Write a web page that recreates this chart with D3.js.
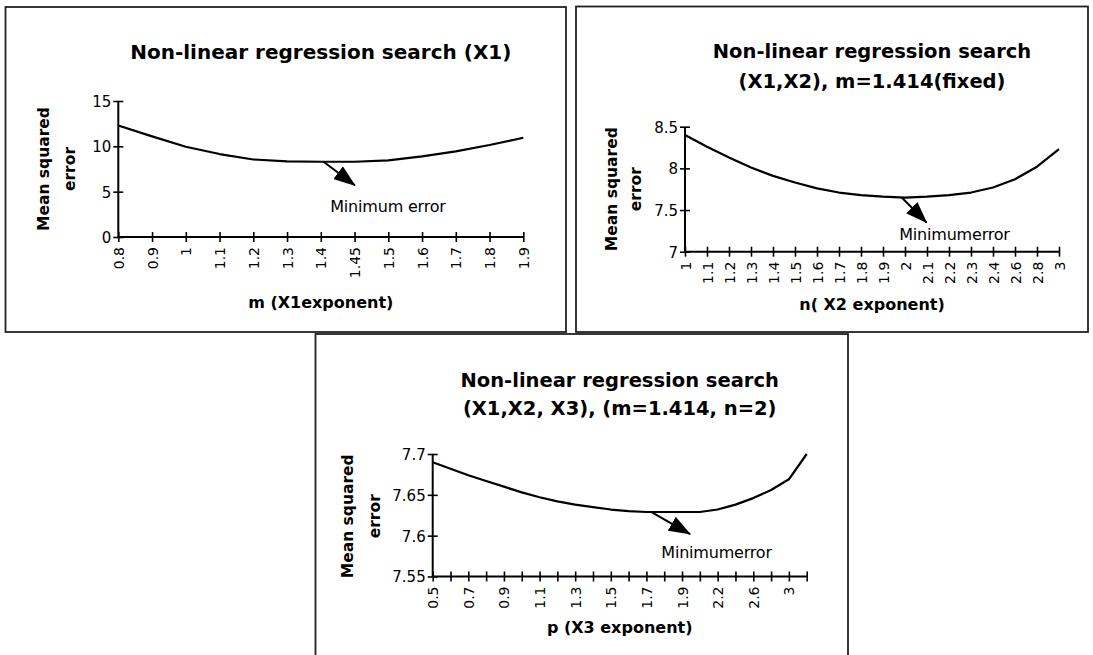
<!DOCTYPE html>
<html>
<head>
<meta charset="utf-8">
<script src="https://cdn.jsdelivr.net/npm/d3@7"></script>
<style>
  html, body { margin: 0; padding: 0; background: #fff; }
  svg { display: block; }
</style>
</head>
<body>
<svg id="chart" width="1093" height="655"></svg>
<script>
// ---------- data ----------
const titles1 = ["Non-linear regression search (X1)"];
const titles2 = ["Non-linear regression search", "(X1,X2), m=1.414(fixed)"];
const titles3 = ["Non-linear regression search", "(X1,X2, X3), (m=1.414, n=2)"];

const xTitle1 = "m (X1exponent)";
const xTitle2 = "n( X2 exponent)";
const xTitle3 = "p (X3 exponent)";
const yTitleLines = ["Mean squared", "error"];

const categories1 = ["0.8","0.9","1","1.1","1.2","1.3","1.4","1.45","1.5","1.6","1.7","1.8","1.9"];
const values1 = [12.3, 11.1, 9.95, 9.15, 8.55, 8.35, 8.3, 8.3, 8.45, 8.9, 9.45, 10.15, 10.95];
const yTicks1 = [0, 5, 10, 15];

const categories2 = ["1","1.1","1.2","1.3","1.4","1.5","1.6","1.7","1.8","1.9","2","2.1","2.2","2.3","2.4","2.6","2.8","3"];
const values2 = [8.40, 8.26, 8.13, 8.01, 7.91, 7.83, 7.76, 7.71, 7.68, 7.66, 7.65, 7.66, 7.68, 7.71, 7.77, 7.87, 8.02, 8.23];
const yTicks2 = [7, 7.5, 8, 8.5];

const categories3 = ["0.5","0.6","0.7","0.8","0.9","1","1.1","1.2","1.3","1.4","1.5","1.6","1.7","1.8","1.9","2","2.2","2.4","2.6","2.8","3","3.2"];
const values3 = [7.690, 7.682, 7.674, 7.667, 7.660, 7.653, 7.647, 7.642, 7.638, 7.635, 7.632, 7.630, 7.629, 7.629, 7.629, 7.629, 7.632, 7.638, 7.646, 7.656, 7.669, 7.700];
const yTicks3 = [7.55, 7.6, 7.65, 7.7];
const labelEvery3 = 2;

const annotationText1 = "Minimum error";
const annotationText2 = "Minimumerror";
const annotationText3 = "Minimumerror";
// annotation anchors in data space: [category index, value]
const arrowFrom1 = [6.08, 8.3],  arrowTo1 = [7.01, 5.7],  labelAt1 = [7.99, 2.75];
const arrowFrom2 = [9.85, 7.65], arrowTo2 = [10.98, 7.35], labelAt2 = [12.25, 7.146];
const arrowFrom3 = [12.26, 7.629], arrowTo3 = [14.45, 7.602], labelAt3 = [15.94, 7.5727];

// ---------- layout ----------
const svg = d3.select("#chart");
const FONT = "'DejaVu Sans', Verdana, sans-serif";

const defs = svg.append("defs");
defs.append("marker")
  .attr("id", "head")
  .attr("markerUnits", "userSpaceOnUse")
  .attr("viewBox", "0 0 22 16")
  .attr("refX", 21).attr("refY", 8)
  .attr("markerWidth", 22).attr("markerHeight", 16)
  .attr("orient", "auto")
  .append("path").attr("d", "M0,0 L22,8 L0,16 Z").attr("fill", "#000");

// panel frames
const panels = [
  {x: 5.5, y: 7, w: 560.5, h: 325},
  {x: 576, y: 6.5, w: 512, h: 325.5},
  {x: 315.5, y: 334, w: 532.5, h: 340}
];
svg.selectAll("rect.panel").data(panels).enter().append("rect")
  .attr("class", "panel")
  .attr("x", d => d.x).attr("y", d => d.y)
  .attr("width", d => d.w).attr("height", d => d.h)
  .attr("fill", "none").attr("stroke", "#222").attr("stroke-width", 1.8);

function drawChart(cfg) {
  const g = svg.append("g");
  const n = cfg.categories.length;
  const x = d3.scaleLinear().domain([0, n - 1]).range([cfg.x0, cfg.x1]);
  const y = d3.scaleLinear().domain([cfg.yTicks[0], cfg.yTicks[cfg.yTicks.length - 1]]).range([cfg.yBot, cfg.yTop]);

  // titles
  g.selectAll("text.title").data(cfg.titles).enter().append("text")
    .attr("x", (cfg.x0 + cfg.x1) / 2)
    .attr("y", (d, i) => cfg.titleY + i * cfg.titleGap)
    .attr("text-anchor", "middle")
    .attr("font-family", FONT).attr("font-weight", "bold")
    .attr("font-size", cfg.titleSize)
    .text(d => d);

  // y axis
  const yAxis = d3.axisLeft(y).tickValues(cfg.yTicks).tickSize(0).tickPadding(0)
    .tickFormat(d3.format("~g"));
  const ga = g.append("g").attr("transform", `translate(${cfg.x0},0)`).call(yAxis);
  ga.select(".domain").remove();
  ga.selectAll(".tick text")
    .attr("x", -7).attr("dy", "0.36em")
    .attr("font-family", FONT).attr("font-size", 15).attr("fill", "#000");
  ga.selectAll(".tick").append("line")
    .attr("x1", -5).attr("x2", 5).attr("stroke", "#000").attr("stroke-width", 1.6);

  // x axis
  const idx = d3.range(n);
  const xAxis = d3.axisBottom(x).tickValues(idx).tickSize(0).tickPadding(0)
    .tickFormat(i => (i % cfg.labelEvery === 0 ? cfg.categories[i] : ""));
  const gx = g.append("g").attr("transform", `translate(0,${cfg.yBot})`).call(xAxis);
  gx.select(".domain").remove();
  gx.selectAll(".tick text")
    .attr("transform", "rotate(-90)")
    .attr("x", -10).attr("y", 0).attr("dy", "0.36em")
    .attr("text-anchor", "end")
    .attr("font-family", FONT).attr("font-size", 14).attr("fill", "#000");
  gx.selectAll(".tick").append("line")
    .attr("y1", -5).attr("y2", 5).attr("stroke", "#000").attr("stroke-width", 1.6);

  // axis lines
  g.append("line").attr("x1", cfg.x0).attr("x2", cfg.x0).attr("y1", cfg.yBot).attr("y2", cfg.yTop)
    .attr("stroke", "#000").attr("stroke-width", 2);
  g.append("line").attr("x1", cfg.x0).attr("x2", cfg.x1).attr("y1", cfg.yBot).attr("y2", cfg.yBot)
    .attr("stroke", "#000").attr("stroke-width", 2);

  // series
  const line = d3.line().x((d, i) => x(i)).y(d => y(d));
  g.append("path").datum(cfg.values)
    .attr("d", line).attr("fill", "none")
    .attr("stroke", "#000").attr("stroke-width", 2.2).attr("stroke-linejoin", "round");

  // axis titles
  g.append("text")
    .attr("x", (cfg.x0 + cfg.x1) / 2).attr("y", cfg.xTitleY)
    .attr("text-anchor", "middle")
    .attr("font-family", FONT).attr("font-weight", "bold").attr("font-size", 16)
    .text(cfg.xTitle);
  const cy = (cfg.yTop + cfg.yBot) / 2 + cfg.yTitleShift;
  g.selectAll("text.ytitle").data(yTitleLines).enter().append("text")
    .attr("transform", (d, i) => `translate(${cfg.yTitleX + i * cfg.yTitleGap},${cy}) rotate(-90)`)
    .attr("text-anchor", "middle")
    .attr("font-family", FONT).attr("font-weight", "bold").attr("font-size", 15.5)
    .text(d => d);

  // annotation
  g.append("line")
    .attr("x1", x(cfg.arrowFrom[0])).attr("y1", y(cfg.arrowFrom[1]))
    .attr("x2", x(cfg.arrowTo[0])).attr("y2", y(cfg.arrowTo[1]))
    .attr("stroke", "#000").attr("stroke-width", 2)
    .attr("marker-end", "url(#head)");
  g.append("text")
    .attr("x", x(cfg.labelAt[0])).attr("y", y(cfg.labelAt[1]))
    .attr("text-anchor", "middle")
    .attr("font-family", FONT).attr("font-size", 16).attr("letter-spacing", -0.2)
    .text(cfg.annotation);
}

drawChart({
  titles: titles1, titleY: 59, titleGap: 29, titleSize: 20,
  categories: categories1, values: values1, yTicks: yTicks1, labelEvery: 1,
  x0: 118.3, x1: 523.3, yTop: 101, yBot: 237,
  xTitle: xTitle1, xTitleY: 308, yTitleX: 49, yTitleGap: 26, yTitleShift: 0,
  arrowFrom: arrowFrom1, arrowTo: arrowTo1, labelAt: labelAt1, annotation: annotationText1
});
drawChart({
  titles: titles2, titleY: 58, titleGap: 29.5, titleSize: 19.5,
  categories: categories2, values: values2, yTicks: yTicks2, labelEvery: 1,
  x0: 685, x1: 1059, yTop: 126.7, yBot: 251.7,
  xTitle: xTitle2, xTitleY: 310, yTitleX: 617, yTitleGap: 24, yTitleShift: 0,
  arrowFrom: arrowFrom2, arrowTo: arrowTo2, labelAt: labelAt2, annotation: annotationText2
});
drawChart({
  titles: titles3, titleY: 387, titleGap: 28, titleSize: 19.5,
  categories: categories3, values: values3, yTicks: yTicks3, labelEvery: labelEvery3,
  x0: 432.7, x1: 806.7, yTop: 454, yBot: 576.5,
  xTitle: xTitle3, xTitleY: 633, yTitleX: 353, yTitleGap: 27, yTitleShift: 1,
  arrowFrom: arrowFrom3, arrowTo: arrowTo3, labelAt: labelAt3, annotation: annotationText3
});
</script>
</body>
</html>
